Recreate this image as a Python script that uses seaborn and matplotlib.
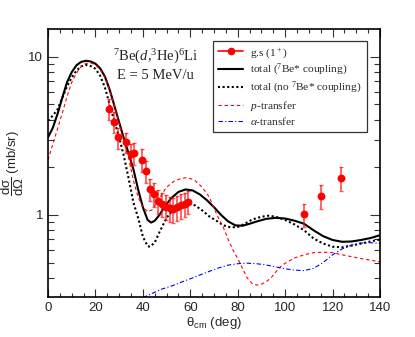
import numpy as np
import pandas as pd
import matplotlib
matplotlib.use('Agg')
import matplotlib.pyplot as plt
import seaborn as sns
from matplotlib.lines import Line2D
from matplotlib.ticker import LogLocator, NullFormatter, FixedLocator, FixedFormatter, MultipleLocator

# DATA

# g.s (1+) measured points
theta_exp = [25.9, 27.7, 29.5, 33.0, 34.9, 36.4, 39.8, 41.5, 43.0, 44.8, 46.4, 48.0,
             49.6, 51.3, 52.8, 54.4, 56.1, 57.7, 59.2, 108.1, 115.1, 123.6]
xs_exp = [4.69, 3.89, 3.10, 2.88, 2.42, 2.47, 2.24, 1.90, 1.46, 1.36, 1.23, 1.17,
          1.13, 1.10, 1.09, 1.12, 1.15, 1.17, 1.21, 1.01, 1.32, 1.71]
err_exp = [0.70, 0.58, 0.47, 0.43, 0.38, 0.40, 0.36, 0.31, 0.24, 0.23, 0.21, 0.20,
           0.20, 0.20, 0.20, 0.20, 0.20, 0.20, 0.20, 0.17, 0.23, 0.30]

# total (7Be* coupling)
theta_tot = [0, 2, 4, 6, 8, 10, 12, 14, 16, 18, 20, 22, 24, 26, 28, 30, 32, 34, 36, 38,
             40, 42, 43.5, 45, 47, 49, 52, 55, 58, 61, 64, 67, 70, 73, 76, 79, 82, 85,
             88, 92, 96, 100, 104, 108, 112, 116, 120, 124, 128, 132, 136, 140]
xs_tot = [3.1, 3.55, 4.35, 5.5, 6.9, 8.0, 8.85, 9.3, 9.45, 9.35, 9.05, 8.45, 7.5, 6.2,
          4.9, 3.85, 3.05, 2.45, 1.95, 1.45, 1.12, 0.93, 0.895, 0.92, 1.0, 1.12, 1.28,
          1.40, 1.45, 1.43, 1.35, 1.24, 1.12, 1.0, 0.91, 0.86, 0.855, 0.88, 0.91, 0.945,
          0.96, 0.95, 0.92, 0.88, 0.80, 0.735, 0.695, 0.677, 0.68, 0.695, 0.715, 0.745]

# total (no 7Be* coupling)
theta_noc = [0, 2, 4, 6, 8, 10, 12, 14, 16, 18, 20, 22, 24, 26, 28, 30, 32, 34, 36, 38,
             40, 42, 43, 45, 47, 50, 53, 56, 59, 62, 65, 68, 71, 74, 77, 80, 83, 86, 90,
             93, 96, 100, 104, 108, 112, 116, 120, 124, 128, 132, 136, 140]
xs_noc = [3.95, 4.25, 4.65, 5.5, 6.5, 7.4, 8.2, 8.7, 8.9, 8.75, 8.4, 7.6, 6.4, 5.0, 3.9,
          3.1, 2.35, 1.7, 1.2, 0.96, 0.73, 0.635, 0.63, 0.67, 0.78, 0.96, 1.09, 1.16,
          1.19, 1.15, 1.07, 0.98, 0.92, 0.86, 0.835, 0.84, 0.88, 0.935, 0.975, 0.99,
          0.975, 0.93, 0.87, 0.80, 0.71, 0.66, 0.63, 0.625, 0.64, 0.66, 0.68, 0.70]

# p-transfer
theta_p = [0, 2, 4, 6, 8, 10, 12, 14, 16, 18, 20, 22, 24, 26, 28, 30, 32, 34, 36, 38, 40,
           42, 44, 46, 48, 50, 53, 56, 58, 60, 62, 65, 68, 70, 72, 74, 76, 78, 80, 82, 84,
           86, 88, 90, 92, 94, 96, 98, 100, 104, 108, 112, 116, 120, 124, 128, 132, 136, 140]
xs_p = [2.23, 2.8, 3.5, 4.4, 5.6, 6.9, 7.9, 8.7, 9.1, 9.15, 8.9, 8.3, 7.4, 6.1, 4.9, 3.8,
        2.9, 2.3, 1.65, 1.3, 1.12, 1.05, 1.08, 1.2, 1.35, 1.5, 1.63, 1.70, 1.72, 1.70,
        1.65, 1.50, 1.30, 1.1, 0.95, 0.83, 0.70, 0.60, 0.53, 0.46, 0.40, 0.37, 0.36,
        0.365, 0.378, 0.40, 0.435, 0.47, 0.495, 0.535, 0.56, 0.578, 0.582, 0.578, 0.56,
        0.545, 0.53, 0.518, 0.505]

# alpha-transfer
theta_a = [40, 44, 48, 52, 56, 60, 64, 68, 72, 76, 80, 84, 88, 92, 96, 100, 104, 108,
           112, 116, 120, 124, 128, 132, 136, 140]
xs_a = [0.30, 0.32, 0.34, 0.355, 0.375, 0.395, 0.417, 0.44, 0.463, 0.482, 0.492, 0.496,
        0.492, 0.483, 0.47, 0.457, 0.448, 0.445, 0.46, 0.5, 0.56, 0.61, 0.645, 0.665,
        0.668, 0.66]


sns.set_style('ticks')
plt.rcParams['font.family'] = ['Liberation Sans', 'DejaVu Sans']
plt.rcParams['mathtext.fontset'] = 'custom'
plt.rcParams['mathtext.rm'] = 'Liberation Serif'
plt.rcParams['mathtext.it'] = 'Liberation Serif:italic'
plt.rcParams['mathtext.bf'] = 'Liberation Serif:bold'
plt.rcParams['mathtext.sf'] = 'Liberation Sans'

fig = plt.figure(figsize=(4.15, 3.37), dpi=100)
ax = fig.add_axes([0.1157, 0.1187, 0.8, 0.7952])

sns.lineplot(x=theta_tot, y=xs_tot, ax=ax, color='black', lw=1.5, sort=False)
sns.lineplot(x=theta_noc, y=xs_noc, ax=ax, color='black', lw=1.5,
             linestyle=(0, (1, 1.2)), sort=False)
sns.lineplot(x=theta_p, y=xs_p, ax=ax, color='red', lw=0.8,
             linestyle=(0, (3, 2.5)), sort=False)
sns.lineplot(x=theta_a, y=xs_a, ax=ax, color='blue', lw=0.8,
             linestyle=(0, (4, 2, 1, 2)), sort=False)

ax.errorbar(theta_exp, xs_exp, yerr=err_exp, fmt='none', ecolor=(1, 0, 0, 0.65),
            elinewidth=1.3, capsize=1.2, capthick=1, zorder=4)
sns.scatterplot(x=theta_exp, y=xs_exp, ax=ax, color='red', s=32, edgecolor='red',
                linewidth=0, zorder=5)

ax.set_yscale('log')
ax.set_xlim(0, 140)
ax.set_ylim(0.303, 15)

ax.xaxis.set_major_locator(MultipleLocator(20))
ax.xaxis.set_minor_locator(MultipleLocator(5))
ax.yaxis.set_major_locator(FixedLocator([1, 10]))
ax.yaxis.set_major_formatter(FixedFormatter(['1', '10']))
ax.yaxis.set_minor_locator(LogLocator(base=10, subs=np.arange(2, 10)))
ax.yaxis.set_minor_formatter(NullFormatter())

ax.tick_params(which='both', direction='in', top=True, right=True, labelsize=9.5,
               color='#333333', width=0.8)
ax.tick_params(axis='x', which='major', length=6)
ax.tick_params(axis='x', which='minor', length=3)
ax.tick_params(axis='y', which='major', length=7)
ax.tick_params(axis='y', which='minor', length=4)
for sp in ax.spines.values():
    sp.set_linewidth(1.2)
    sp.set_color('black')

ax.set_xlabel(r'$\mathsf{\theta_{cm}}$ (deg)', fontsize=9.5, labelpad=1)
ax.set_ylabel(r'$\dfrac{\mathsf{d\sigma}}{\mathsf{d\Omega}}$ (mb/sr)', fontsize=9.5,
              labelpad=2)

ax.text(0.325, 0.896, r'$^7$Be($d$,$^3$He)$^6$Li', transform=ax.transAxes,
        ha='center', va='center', fontsize=10.5, family='Liberation Serif')
ax.text(0.325, 0.825, 'E = 5 MeV/u', transform=ax.transAxes,
        ha='center', va='center', fontsize=10.5, family='Liberation Serif')

handles = [
    Line2D([], [], color='red', marker='o', markersize=4.5, lw=1.2),
    Line2D([], [], color='black', lw=1.5),
    Line2D([], [], color='black', lw=1.5, linestyle=(0, (1, 1.2))),
    Line2D([], [], color='red', lw=0.8, linestyle=(0, (3, 2.5))),
    Line2D([], [], color='blue', lw=0.8, linestyle=(0, (4, 2, 1, 2))),
]
labels = [r'g.s (1$^+$)', r'total ($^7$Be* coupling)', r'total (no $^7$Be* coupling)',
          r'$p$-transfer', r'$\alpha$-transfer']
leg = ax.legend(handles, labels, loc='upper right', bbox_to_anchor=(0.961, 0.955),
                borderaxespad=0, fancybox=False, framealpha=1, edgecolor='#333333',
                prop={'family': 'Liberation Serif', 'size': 8.2}, handlelength=2.2,
                labelspacing=0.2, borderpad=0.45, handletextpad=0.6)
leg.get_frame().set_linewidth(0.9)

fig.savefig('out.png', dpi=100)
